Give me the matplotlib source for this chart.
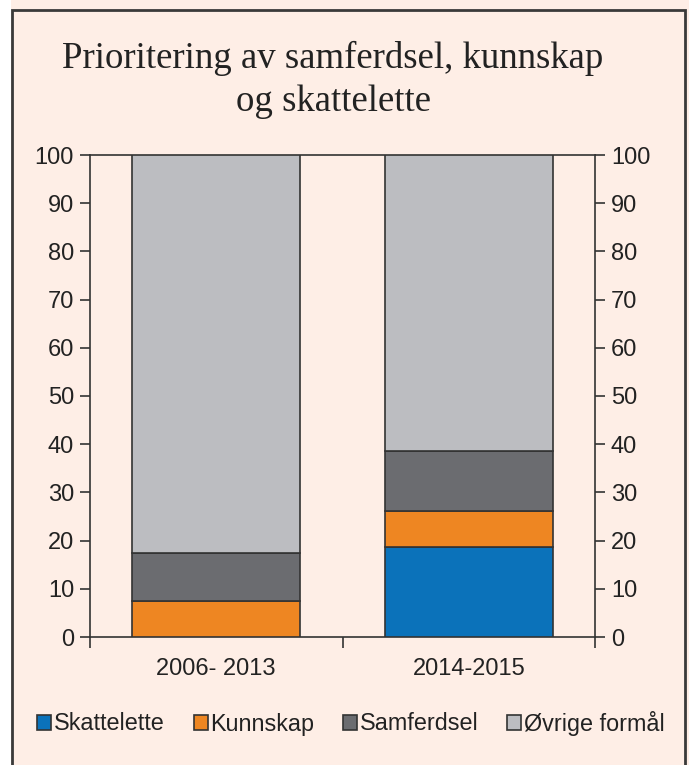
import numpy as np
import matplotlib.pyplot as plt
from matplotlib.patches import Rectangle, Patch

periods = ["2006- 2013", "2014-2015"]
series = ["Skattelette", "Kunnskap", "Samferdsel", "Øvrige formål"]
skattelette = [0.0, 18.6]
kunnskap = [7.4, 7.5]
samferdsel = [10.0, 12.5]
ovrige = [82.6, 61.4]
yticks = [0, 10, 20, 30, 40, 50, 60, 70, 80, 90, 100]

bg = "#FEEEE6"
colors = ["#0B72BA", "#EE8622", "#6B6C70", "#BCBDC1"]
edge = "#333333"
plt.rcParams["font.family"] = ["Liberation Sans", "DejaVu Sans"]

fig = plt.figure(figsize=(6.89, 7.65), dpi=100, facecolor=bg)
# white strip left of frame + frame
fig.patches.append(Rectangle((0, 0), 11 / 689, 1, transform=fig.transFigure,
                             facecolor="white", edgecolor="none", zorder=0))
fig.patches.append(Rectangle((11.5 / 689, -0.02), 673 / 689, 1 - 10.5 / 765 + 0.02,
                             transform=fig.transFigure, facecolor="none",
                             edgecolor="#3a3a3a", linewidth=2, zorder=5))

ax = fig.add_axes([90 / 689, 128 / 765, 505 / 689, 482 / 765])
ax.set_facecolor(bg)

x = np.arange(len(periods))
bottom = np.zeros(len(periods))
for name, vals, c in zip(series, [skattelette, kunnskap, samferdsel, ovrige], colors):
    vals = np.array(vals)
    ax.bar(x, vals, width=0.667, bottom=bottom, color=c, edgecolor=edge,
           linewidth=1.2, zorder=3)
    bottom += vals

ax.set_xlim(-0.5, 1.5)
ax.set_ylim(0, 100)
ax.set_yticks(yticks)
ax.tick_params(axis="y", which="both", direction="out", length=7, width=1.2,
               color="#333333", labelsize=17, labelcolor="#222222",
               left=True, right=True, labelleft=True, labelright=True, pad=4.5)
ax.set_xticks(x)
ax.set_xticklabels(periods)
ax.set_xticks([-0.5, 0.5, 1.5], minor=True)
ax.tick_params(axis="x", which="major", length=0, labelsize=17,
               labelcolor="#222222", pad=15)
ax.tick_params(axis="x", which="minor", length=8, width=1.2, color="#333333")
for s in ax.spines.values():
    s.set_color("#333333")
    s.set_linewidth(1.2)

fig.text(333 / 689, 1 - 80 / 765, "Prioritering av samferdsel, kunnskap\nog skattelette",
         ha="center", va="center", fontsize=26.5, family="Liberation Serif",
         color="#222222", linespacing=1.35)

handles = [Patch(facecolor=c, edgecolor=edge, linewidth=1.2) for c in colors]
fig.legend(handles, series, loc="center", bbox_to_anchor=(351 / 689, 1 - 723 / 765),
           ncol=4, frameon=False, handlelength=0.6, handleheight=0.6,
           handletextpad=0.1, columnspacing=1.25, prop={"family": "Liberation Sans", "size": 16.8},
           labelcolor="#222222")

fig.savefig("out.png", dpi=100, facecolor=bg)
